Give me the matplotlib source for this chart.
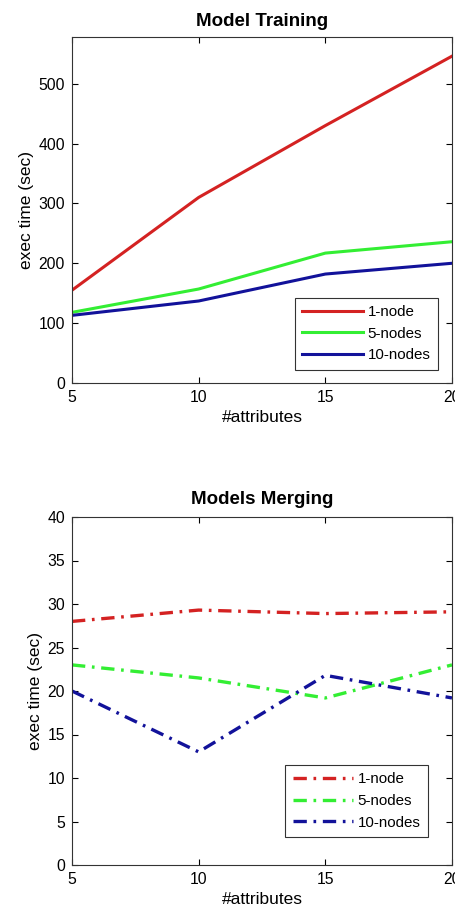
import matplotlib
matplotlib.use("Agg")
import matplotlib.pyplot as plt

plt.rcParams['font.family'] = ['Liberation Sans', 'DejaVu Sans']

attributes = [5, 10, 15, 20]
series_labels = ['1-node', '5-nodes', '10-nodes']

train_1node = [155, 310, 430, 546]
train_5nodes = [118, 157, 217, 236]
train_10nodes = [113, 137, 182, 200]

merge_1node = [28.0, 29.3, 28.9, 29.1]
merge_5nodes = [23.0, 21.5, 19.2, 23.0]
merge_10nodes = [20.0, 13.0, 21.8, 19.2]

colors = ['#d42222', '#33ee33', '#12129a']

fig = plt.figure(figsize=(4.56, 9.09), dpi=100)
W, H = 456, 909

def make_axes(top_px, bottom_px):
    left, right = 72, 452
    return fig.add_axes([left / W, (H - bottom_px) / H, (right - left) / W, (bottom_px - top_px) / H])

def style(ax, title, tpad):
    ax.set_title(title, fontsize=13.5, fontweight='bold', pad=tpad)
    ax.set_xlabel('#attributes', fontsize=12.5, labelpad=4)
    ax.set_ylabel('exec time (sec)', fontsize=12.5, labelpad=3)
    ax.set_xlim(5, 20)
    ax.set_xticks(attributes)
    ax.tick_params(direction='in', top=True, right=True, labelsize=11.3, length=4, width=0.8, pad=5)
    for s in ax.spines.values():
        s.set_linewidth(0.8)
        s.set_color('#333333')

legend_kw = dict(fontsize=10.9, frameon=True, fancybox=False, edgecolor='black',
                 handlelength=4.0, borderpad=0.5, labelspacing=0.5, handletextpad=0.3,
                 borderaxespad=0)

ax1 = make_axes(37, 383)
for vals, lab, c in zip([train_1node, train_5nodes, train_10nodes], series_labels, colors):
    ax1.plot(attributes, vals, color=c, lw=2.2, label=lab, solid_joinstyle='round')
ax1.set_ylim(0, 578)
ax1.set_yticks([0, 100, 200, 300, 400, 500])
style(ax1, 'Model Training', 8)
leg1 = ax1.legend(loc='lower right', bbox_to_anchor=(0.963, 0.038), **legend_kw)
leg1.get_frame().set_linewidth(0.8)

ax2 = make_axes(517, 865)
for vals, lab, c in zip([merge_1node, merge_5nodes, merge_10nodes], series_labels, colors):
    ax2.plot(attributes, vals, color=c, lw=2.4, label=lab, linestyle=(0, (4, 2, 0.8, 2)))
ax2.set_ylim(0, 40)
ax2.set_yticks(range(0, 41, 5))
style(ax2, 'Models Merging', 9)
leg2 = ax2.legend(loc='lower right', bbox_to_anchor=(0.937, 0.080), **legend_kw)
leg2.get_frame().set_linewidth(0.8)

fig.savefig('out.png', dpi=100)
